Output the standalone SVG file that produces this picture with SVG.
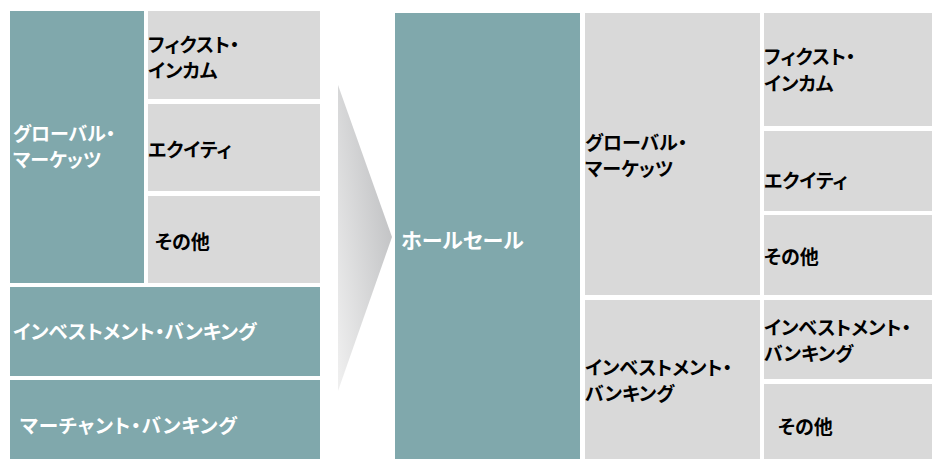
<svg xmlns="http://www.w3.org/2000/svg" width="932" height="459" viewBox="0 0 932 459">
<style>
.teal{fill:#80a8ac}
.gray{fill:#d9d9d9}
text{font-family:"Noto Sans CJK JP","Noto Sans CJK SC",sans-serif;font-weight:700;font-size:19px;font-feature-settings:"palt"}
.big{font-size:19.6px}
.w{fill:#ffffff}
.k{fill:#000000}
</style>
<defs>
<linearGradient id="arrowGrad" x1="0" y1="1" x2="1" y2="0.2">
<stop offset="0" stop-color="#f0f0f0"/>
<stop offset="1" stop-color="#bcbdbf"/>
</linearGradient>
</defs>
<rect width="932" height="459" fill="#ffffff"/>

<!-- Left panel -->
<g id="left-global-markets">
<rect class="teal" x="10" y="11" width="134" height="272"/>
<text class="w" x="13" y="141">グローバル・</text>
<text class="w" x="13" y="167">マーケッツ</text>
</g>
<g id="left-fixed-income">
<rect class="gray" x="148" y="11" width="172" height="88"/>
<text class="k" x="148" y="52">フィクスト・</text>
<text class="k" x="148" y="78">インカム</text>
</g>
<g id="left-equity">
<rect class="gray" x="148" y="104" width="172" height="87"/>
<text class="k" x="148" y="157">エクイティ</text>
</g>
<g id="left-other">
<rect class="gray" x="148" y="196" width="172" height="87"/>
<text class="k" x="155" y="249">その他</text>
</g>
<g id="left-investment-banking">
<rect class="teal" x="10" y="287" width="310" height="89"/>
<text class="w big" x="13" y="339">インベストメント・バンキング</text>
</g>
<g id="left-merchant-banking">
<rect class="teal" x="10" y="380" width="310" height="79"/>
<text class="w big" x="20" y="433" letter-spacing="0.8">マーチャント・バンキング</text>
</g>

<!-- Arrow -->
<g id="connectors">
<polygon points="338,85 392,237 338,391" fill="url(#arrowGrad)"/>
</g>

<!-- Middle -->
<g id="wholesale">
<rect class="teal" x="395" y="13" width="185" height="446"/>
<text class="w" x="401" y="248" style="font-size:21px">ホールセール</text>
</g>

<!-- Right panel -->
<g id="right-global-markets">
<rect class="gray" x="585" y="13" width="175" height="282"/>
<text class="k" x="585" y="150">グローバル・</text>
<text class="k" x="585" y="176">マーケッツ</text>
</g>
<g id="right-investment-banking">
<rect class="gray" x="585" y="300" width="175" height="159"/>
<text class="k" x="585" y="375">インベストメント・</text>
<text class="k" x="585" y="401">バンキング</text>
</g>
<g id="right-fixed-income">
<rect class="gray" x="764" y="13" width="168" height="113"/>
<text class="k" x="764" y="64">フィクスト・</text>
<text class="k" x="764" y="91">インカム</text>
</g>
<g id="right-equity">
<rect class="gray" x="764" y="131" width="168" height="80"/>
<text class="k" x="764" y="188">エクイティ</text>
</g>
<g id="right-gm-other">
<rect class="gray" x="764" y="215" width="168" height="80"/>
<text class="k" x="764" y="264">その他</text>
</g>
<g id="right-ib">
<rect class="gray" x="764" y="300" width="168" height="79"/>
<text class="k" x="764" y="335">インベストメント・</text>
<text class="k" x="764" y="361">バンキング</text>
</g>
<g id="right-ib-other">
<rect class="gray" x="764" y="384" width="168" height="75"/>
<text class="k" x="778" y="434">その他</text>
</g>
</svg>
